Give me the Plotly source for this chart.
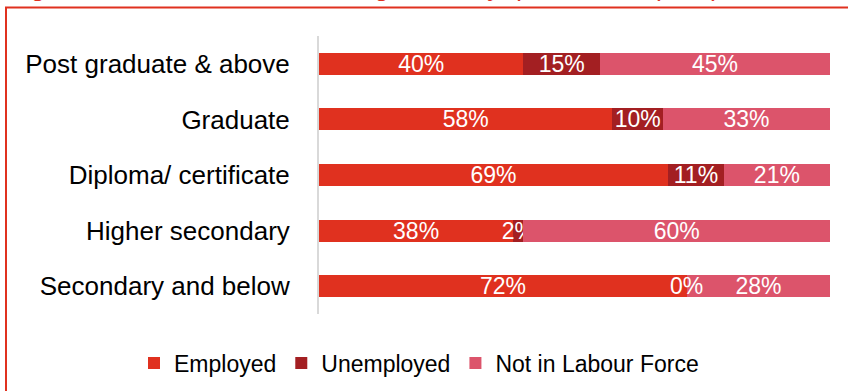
import plotly.graph_objects as go

categories = ["Post graduate & above", "Graduate", "Diploma/ certificate",
              "Higher secondary", "Secondary and below"]
employed = [40, 58, 69, 38, 72]
unemployed = [15, 10, 11, 2, 0]
not_in_lf = [45, 33, 21, 60, 28]

series = [
    ("Employed", employed, "#E0311F"),
    ("Unemployed", unemployed, "#A31F22"),
    ("Not in Labour Force", not_in_lf, "#DC546B"),
]

W, H = 848, 391
L, R, T, B = 319, 18, 36, 77
pw = W - L - R
ph = H - T - B

def px_x(p):
    return (p - L) / pw

def px_y(p):
    return (H - B - p) / ph

FONT = "Liberation Sans, Arial"
fig = go.Figure()
for name, vals, col in series:
    fig.add_trace(go.Bar(
        name=name, y=categories, x=vals, orientation="h",
        marker=dict(color=col, line=dict(width=0)),
        text=[f"{v}%" for v in vals], textposition="inside", textangle=0,
        insidetextanchor="middle", constraintext="none",
        textfont=dict(color="white", size=23, family=FONT),
        cliponaxis=False,
    ))

# labels for zero-width segments (plotly drops inside text on empty bars)
annotations = []
totals = [sum(v) for v in zip(employed, unemployed, not_in_lf)]
for i, cat in enumerate(categories):
    cum = 0.0
    for name, vals, col in series:
        v = vals[i]
        if v == 0:
            annotations.append(dict(
                x=cum / totals[i] * 100, y=cat, xref="x", yref="y",
                text=f"{v}%", showarrow=False, xanchor="center", yanchor="middle",
                font=dict(color="white", size=23, family=FONT)))
        cum += v

annotations.append(dict(
    text="Figure 12: Distribution of working status by qualification (in %), 2017-18",
    xref="paper", yref="paper", x=px_x(7), y=px_y(4),
    xanchor="left", yanchor="bottom", showarrow=False,
    font=dict(size=26, color="#E0311F", family=FONT)))

fig.update_layout(
    width=W, height=H,
    margin=dict(l=L, r=R, t=T, b=B, autoexpand=False),
    barmode="stack", barnorm="percent", bargap=0.604,
    plot_bgcolor="white", paper_bgcolor="white",
    font=dict(family=FONT, color="#000000"),
    showlegend=True,
    legend=dict(orientation="h", xref="paper", yref="paper",
                xanchor="left", yanchor="middle",
                x=px_x(134), y=px_y(363),
                font=dict(size=23, color="#000000"),
                traceorder="normal", itemwidth=30),
    xaxis=dict(visible=False, range=[0, 100], fixedrange=True),
    yaxis=dict(autorange="reversed", showline=True, linecolor="#D9D9D9",
               linewidth=2, ticks="", showgrid=False, zeroline=False,
               ticklabelstandoff=22,
               tickfont=dict(size=26, color="#000000")),
    shapes=[dict(type="rect", xref="paper", yref="paper",
                 x0=px_x(6), x1=px_x(860), y0=px_y(410), y1=px_y(7.5),
                 line=dict(color="#E0311F", width=2), fillcolor="rgba(0,0,0,0)",
                 layer="above")],
    annotations=annotations,
)

fig.write_html("out.html")
